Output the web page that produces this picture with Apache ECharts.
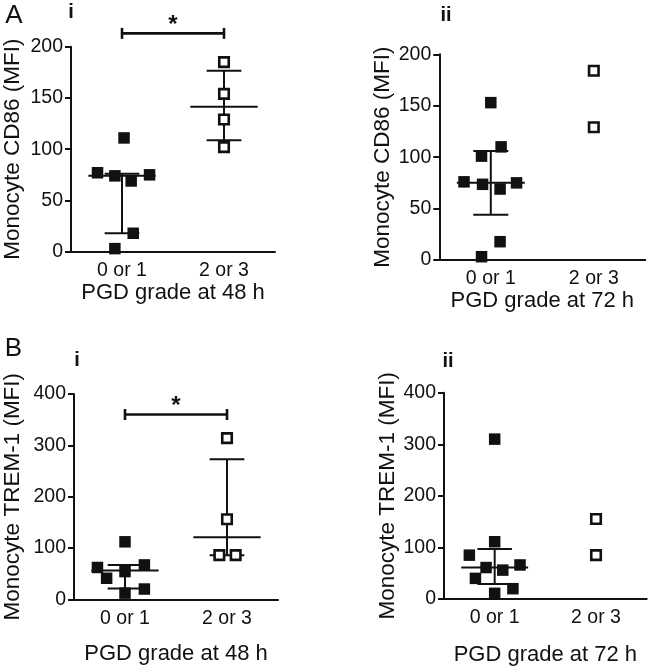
<!DOCTYPE html>
<html>
<head>
<meta charset="utf-8">
<script src="https://cdn.jsdelivr.net/npm/echarts@6/dist/echarts.min.js"></script>
<style>
html,body{margin:0;padding:0;background:#fff;}
#chart{width:652px;height:667px;}
</style>
</head>
<body>
<div id="chart"></div>
<script>
// ---------- data ----------
const groups = ['0 or 1', '2 or 3'];

// Panel A i: Monocyte CD86, PGD grade at 48 h
const cd86_48_low = [111, 77, 74, 69, 75, 18, 3];
const cd86_48_low_jit = [0.02, -0.24, -0.07, 0.09, 0.27, 0.11, -0.07];
const cd86_48_high = [185, 154, 129, 102];
const cd86_48_high_jit = [0, 0, 0, 0];
// [groupIndex, median, q1, q3]
const cd86_48_summary = [[0, 74, 18, 76], [1, 141.5, 108.7, 176.6]];
const cd86_48_sig = [[0, 1, 213]];

// Panel A ii: Monocyte CD86, PGD grade at 72 h
const cd86_72_low = [153, 101, 110, 76, 73.6, 69, 75, 17.8, 3.2];
const cd86_72_low_jit = [0, -0.09, 0.1, -0.26, -0.08, 0.09, 0.25, 0.09, -0.09];
const cd86_72_high = [184, 129];
const cd86_72_high_jit = [0, 0];
const cd86_72_summary = [[0, 75, 44, 106]];

// Panel B i: Monocyte TREM-1, PGD grade at 48 h
const trem_48_low = [112, 62, 41, 54, 67, 20, 12];
const trem_48_low_jit = [0, -0.27, -0.18, 0, 0.19, 0.19, 0];
const trem_48_high = [314, 156, 86, 86];
const trem_48_high_jit = [0, 0, -0.075, 0.085];
const trem_48_summary = [[0, 56, 21, 67], [1, 121, 86, 273]];
const trem_48_sig = [[0, 1, 360]];

// Panel B ii: Monocyte TREM-1, PGD grade at 72 h
const trem_72_low = [310, 85, 111, 40, 61, 56, 66, 20, 11];
const trem_72_low_jit = [0, -0.25, 0, -0.19, -0.085, 0.08, 0.25, 0.18, 0];
const trem_72_high = [155, 85];
const trem_72_high_jit = [0, 0];
const trem_72_summary = [[0, 61, 29, 97]];

// ---------- styling ----------
const FONT = "'Liberation Sans', Arial, Helvetica, sans-serif";
const INK = '#111';

const panels = [
  {grid: {left: 69.5, top: 46.7, width: 205.5, height: 205}, yMax: 200, yInt: 50,
   yName: 'Monocyte CD86 (MFI)', yGap: 47, xName: 'PGD grade at 48 h', xGap: 26,
   low: cd86_48_low, lowJ: cd86_48_low_jit, high: cd86_48_high, highJ: cd86_48_high_jit,
   summary: cd86_48_summary, sig: cd86_48_sig},
  {grid: {left: 439.3, top: 54.3, width: 206, height: 205.7}, yMax: 200, yInt: 50,
   yName: 'Monocyte CD86 (MFI)', yGap: 45, xName: 'PGD grade at 72 h', xGap: 25,
   low: cd86_72_low, lowJ: cd86_72_low_jit, high: cd86_72_high, highJ: cd86_72_high_jit,
   summary: cd86_72_summary, sig: null},
  {grid: {left: 72.7, top: 394, width: 205.3, height: 205.3}, yMax: 400, yInt: 100,
   yName: 'Monocyte TREM-1 (MFI)', yGap: 50, xName: 'PGD grade at 48 h', xGap: 44,
   low: trem_48_low, lowJ: trem_48_low_jit, high: trem_48_high, highJ: trem_48_high_jit,
   summary: trem_48_summary, sig: trem_48_sig},
  {grid: {left: 444, top: 392.7, width: 202.7, height: 206.3}, yMax: 400, yInt: 100,
   yName: 'Monocyte TREM-1 (MFI)', yGap: 44, xName: 'PGD grade at 72 h', xGap: 45,
   low: trem_72_low, lowJ: trem_72_low_jit, high: trem_72_high, highJ: trem_72_high_jit,
   summary: trem_72_summary, sig: null}
];

const grid = [], xAxis = [], yAxis = [], series = [];

panels.forEach((p, k) => {
  grid.push(Object.assign({containLabel: false}, p.grid));
  // display category axis
  xAxis.push({
    type: 'category', gridIndex: k, data: groups, boundaryGap: true,
    axisLine: {lineStyle: {color: INK, width: 2}},
    axisTick: {alignWithLabel: true, length: 6, lineStyle: {color: INK, width: 2}},
    axisLabel: {color: INK, fontSize: 19.5, fontFamily: FONT, margin: 9},
    name: p.xName, nameLocation: 'middle', nameGap: p.xGap,
    nameTextStyle: {color: INK, fontSize: 22, fontFamily: FONT, verticalAlign: 'top'},
    splitLine: {show: false}
  });
  // hidden value axis used for jittered placement
  xAxis.push({type: 'value', gridIndex: k, min: 0, max: 2, show: false});
  yAxis.push({
    type: 'value', gridIndex: k, min: 0, max: p.yMax, interval: p.yInt,
    axisLine: {show: true, lineStyle: {color: INK, width: 2}},
    axisTick: {show: true, length: 6, lineStyle: {color: INK, width: 2}},
    axisLabel: {color: INK, fontSize: 19.5, fontFamily: FONT, margin: 8},
    splitLine: {show: false},
    name: p.yName, nameLocation: 'middle', nameRotate: 90, nameGap: p.yGap,
    nameTextStyle: {color: INK, fontSize: 22.5, fontFamily: FONT}
  });
  const xi = 2 * k + 1;
  // summary lines (median and interquartile range)
  series.push({
    type: 'custom', xAxisIndex: xi, yAxisIndex: k, z: 3,
    data: p.summary,
    renderItem: function (params, api) {
      const g = api.value(0) + 0.5;
      const med = api.value(1), lo = api.value(2), hi = api.value(3);
      const ml = api.coord([g - 0.33, med]), mr = api.coord([g + 0.33, med]);
      const cl = api.coord([g - 0.17, lo]), cr = api.coord([g + 0.17, lo]);
      const tl = api.coord([g - 0.17, hi]), tr = api.coord([g + 0.17, hi]);
      const c0 = api.coord([g, lo]), c1 = api.coord([g, hi]);
      const st = {stroke: INK, lineWidth: 2};
      return {type: 'group', children: [
        {type: 'line', shape: {x1: ml[0], y1: ml[1], x2: mr[0], y2: mr[1]}, style: st},
        {type: 'line', shape: {x1: cl[0], y1: cl[1], x2: cr[0], y2: cr[1]}, style: st},
        {type: 'line', shape: {x1: tl[0], y1: tl[1], x2: tr[0], y2: tr[1]}, style: st},
        {type: 'line', shape: {x1: c0[0], y1: c0[1], x2: c1[0], y2: c1[1]}, style: st}
      ]};
    }
  });
  // low grade: filled squares
  series.push({
    type: 'scatter', xAxisIndex: xi, yAxisIndex: k, z: 4,
    symbol: 'rect', symbolSize: 11.5,
    itemStyle: {color: INK, opacity: 1},
    data: p.low.map((v, i) => [0.5 + p.lowJ[i], v])
  });
  // high grade: open squares
  series.push({
    type: 'scatter', xAxisIndex: xi, yAxisIndex: k, z: 4,
    symbol: 'rect', symbolSize: 9.5,
    itemStyle: {color: '#fff', borderColor: INK, borderWidth: 2.6, opacity: 1},
    data: p.high.map((v, i) => [1.5 + p.highJ[i], v])
  });
  if (p.sig) {
    series.push({
      type: 'custom', xAxisIndex: xi, yAxisIndex: k, z: 5, clip: false,
      data: p.sig,
      renderItem: function (params, api) {
        const a = api.coord([api.value(0) + 0.5, api.value(2)]);
        const b = api.coord([api.value(1) + 0.5, api.value(2)]);
        const st = {stroke: INK, lineWidth: 2.6};
        return {type: 'group', children: [
          {type: 'line', shape: {x1: a[0], y1: a[1], x2: b[0], y2: b[1]}, style: st},
          {type: 'line', shape: {x1: a[0], y1: a[1] - 5.5, x2: a[0], y2: a[1] + 5.5}, style: st},
          {type: 'line', shape: {x1: b[0], y1: b[1] - 5.5, x2: b[0], y2: b[1] + 5.5}, style: st},
          {type: 'text', x: (a[0] + b[0]) / 2, y: a[1] - 8,
           style: {text: '*', fill: INK, font: 'bold 24px ' + FONT, align: 'center', verticalAlign: 'middle'}}
        ]};
      }
    });
  }
});

const labelStyle = (txt, x, y, size, weight) => ({
  type: 'text', x: x, y: y,
  style: {text: txt, fill: INK, font: weight + ' ' + size + 'px ' + FONT,
          align: 'center', verticalAlign: 'middle'}
});

const chart = echarts.init(document.getElementById('chart'), null, {renderer: 'canvas'});
chart.setOption({
  animation: false,
  backgroundColor: '#fff',
  grid: grid, xAxis: xAxis, yAxis: yAxis, series: series,
  graphic: [
    labelStyle('A', 14, 15.5, 26, 'normal'),
    labelStyle('i', 71, 12, 20, 'bold'),
    labelStyle('ii', 446, 15, 20, 'bold'),
    labelStyle('B', 13.5, 349, 26, 'normal'),
    labelStyle('i', 77, 360, 20, 'bold'),
    labelStyle('ii', 448, 361, 20, 'bold')
  ]
});
</script>
</body>
</html>
